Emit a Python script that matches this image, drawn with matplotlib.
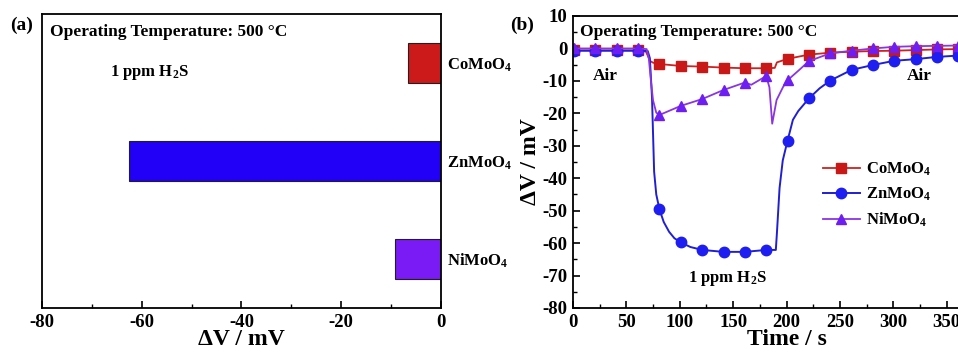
# coding: utf-8 -*-
import matplotlib
matplotlib.use('Agg')
import matplotlib.pyplot as plt
from matplotlib.ticker import MultipleLocator

plt.rcParams['font.family'] = 'Liberation Serif'
plt.rcParams['font.weight'] = 'bold'
plt.rcParams['axes.labelweight'] = 'bold'
plt.rcParams['axes.unicode_minus'] = False
plt.rcParams['mathtext.fontset'] = 'custom'
plt.rcParams['mathtext.rm'] = 'Liberation Serif:bold'
plt.rcParams['mathtext.it'] = 'Liberation Serif:bold'
plt.rcParams['mathtext.bf'] = 'Liberation Serif:bold'
plt.rcParams['mathtext.default'] = 'rm'

# (a) response at 1 ppm H2S
materials = ['CoMoO$_4$', 'ZnMoO$_4$', 'NiMoO$_4$']
response = [-6.6, -62.6, -9.2]
bar_colors = ['#CC1A1A', '#2200F8', '#7A1AF5']

# (b) transients, sampled points (time s, dV mV)
t_co = [0, 1, 21, 41, 61, 68, 70, 72, 75, 81, 101, 121, 141, 161, 181, 189, 191, 201,
        221, 241, 261, 281, 301, 321, 341, 361, 380]
v_co = [-0.6, -0.6, -0.6, -0.6, -0.6, -0.8, -2.2, -3.8, -4.4, -4.8, -5.4, -5.6, -5.9, -6.1, -6.1, -6.0, -4.3, -3.2,
        -1.9, -1.3, -1.0, -0.8, -0.7, -0.5, -0.3, -0.2, -0.1]

t_zn = [0, 1, 21, 41, 61, 70, 72, 74, 76, 78, 81, 85, 90, 95, 101, 110, 121, 141, 161, 181,
        190, 191, 193.5, 196.5, 201, 206, 211, 221, 231, 241, 261, 281, 301, 321, 341, 361, 380]
v_zn = [-0.7, -0.7, -0.7, -0.7, -0.7, -0.8, -3, -15, -38, -45, -49.6, -53.5, -56.5, -58.5, -59.8, -61.2, -62.1, -62.7, -62.7, -62.1,
        -62.1, -57, -43, -34.5, -28.4, -22, -19.3, -15.4, -12.3, -9.9, -6.6, -5.1, -3.8, -3.3, -2.6, -2.2, -1.9]

t_ni = [0, 1, 21, 41, 61, 69, 71, 73, 75, 78, 81, 101, 121, 141, 161, 167, 181, 184, 186.6,
        190.7, 196.9, 201, 212, 221, 241, 261, 281, 301, 321, 341, 361, 380]
v_ni = [0, 0, 0, 0, 0, -0.2, -3, -10, -16, -19.8, -20.5, -17.7, -15.6, -12.8, -10.5, -11.2, -8.5, -12, -23.2,
        -15.9, -11.8, -9.8, -6.6, -3.9, -1.5, -0.7, 0, 0.5, 0.7, 0.8, 0.9, 0.9]

# symbols every 20 s
marker_t = [1, 21, 41, 61, 81, 101, 121, 141, 161, 181, 201, 221, 241, 261, 281, 301, 321, 341, 361]

fig = plt.figure(figsize=(9.58, 3.52), dpi=100)

#1 - bar chart
ax1 = fig.add_axes([42/958, 44/352, 399/958, 294/352])
ypos = list(range(len(materials)))
ax1.barh(ypos, response, height=0.41, color=bar_colors, edgecolor='#202020', linewidth=0.8)
ax1.set_xlim(-80, 0)
ax1.set_ylim(2.5, -0.5)
ax1.yaxis.tick_right()
ax1.set_yticks(ypos)
ax1.set_yticklabels(materials, fontsize=12)
ax1.tick_params(axis='y', length=0, pad=4)
ax1.xaxis.set_major_locator(MultipleLocator(20))
ax1.xaxis.set_minor_locator(MultipleLocator(10))
ax1.tick_params(axis='x', which='both', direction='in', labelsize=13.5, top=False, pad=4)
ax1.tick_params(axis='x', which='major', length=5, width=1.2)
ax1.tick_params(axis='x', which='minor', length=3, width=1.0)
ax1.set_xlabel('ΔV / mV', fontsize=17, labelpad=-1)
for s in ax1.spines.values():
    s.set_linewidth(1.3)
ax1.text(0.02, 0.94, 'Operating Temperature: 500 °C', transform=ax1.transAxes,
         fontsize=12.5, va='center', ha='left')
ax1.text(0.17, 0.80, '1 ppm H$_2$S', transform=ax1.transAxes,
         fontsize=12, va='center', ha='left')
fig.text(10/958, 1 - 25/352, '(a)', fontsize=14, va='center', ha='left')

#2 - transients (axis runs past the right edge of the figure)
ax2 = fig.add_axes([573/958, 44/352, 427/958, 292/352])

def markidx(tt):
    return [i for i, t in enumerate(tt) if t in marker_t]

ax2.plot(t_co, v_co, color='#D02020', lw=1.3, marker='s', ms=6.5, markevery=markidx(t_co),
         mfc='#C81818', mec='#C81818', label='CoMoO$_4$')
ax2.plot(t_zn, v_zn, color='#2020D0', lw=1.4, marker='o', ms=7.5, markevery=markidx(t_zn),
         mfc='#1E1EF0', mec='#1E1EF0', label='ZnMoO$_4$')
ax2.plot(t_ni, v_ni, color='#8A35E0', lw=1.3, marker='^', ms=7.5, markevery=markidx(t_ni),
         mfc='#6E1EF0', mec='#6E1EF0', label='NiMoO$_4$')
ax2.set_xlim(0, 400)
ax2.set_ylim(-80, 10)
ax2.xaxis.set_major_locator(MultipleLocator(50))
ax2.xaxis.set_minor_locator(MultipleLocator(25))
ax2.yaxis.set_major_locator(MultipleLocator(10))
ax2.yaxis.set_minor_locator(MultipleLocator(5))
ax2.tick_params(which='both', direction='in', labelsize=13.5, top=False, right=False)
ax2.tick_params(which='major', length=5, width=1.2)
ax2.tick_params(which='minor', length=3, width=1.0)
ax2.tick_params(axis='x', pad=4)
ax2.tick_params(axis='y', pad=4)
ax2.set_xlabel('Time / s', fontsize=17, labelpad=-1)
ax2.set_ylabel('ΔV / mV', fontsize=17, labelpad=1)
for s in ax2.spines.values():
    s.set_linewidth(1.3)
ax2.text(0.016, 0.945, 'Operating Temperature: 500 °C', transform=ax2.transAxes,
         fontsize=12.5, va='center', ha='left')
ax2.text(30, -8.5, 'Air', fontsize=12.5, ha='center', va='center')
ax2.text(324, -8.5, 'Air', fontsize=12.5, ha='center', va='center')
ax2.text(145, -70.8, '1 ppm H$_2$S', fontsize=12, ha='center', va='center')
ax2.legend(loc='upper left', bbox_to_anchor=(823/958, 1 - 161/352), bbox_transform=fig.transFigure,
           frameon=False, fontsize=12, handlelength=2.2, handletextpad=0.35, labelspacing=0.45,
           borderpad=0, borderaxespad=0)
fig.text(510/958, 1 - 25/352, '(b)', fontsize=14, va='center', ha='left')

fig.savefig('out.png', dpi=100)
